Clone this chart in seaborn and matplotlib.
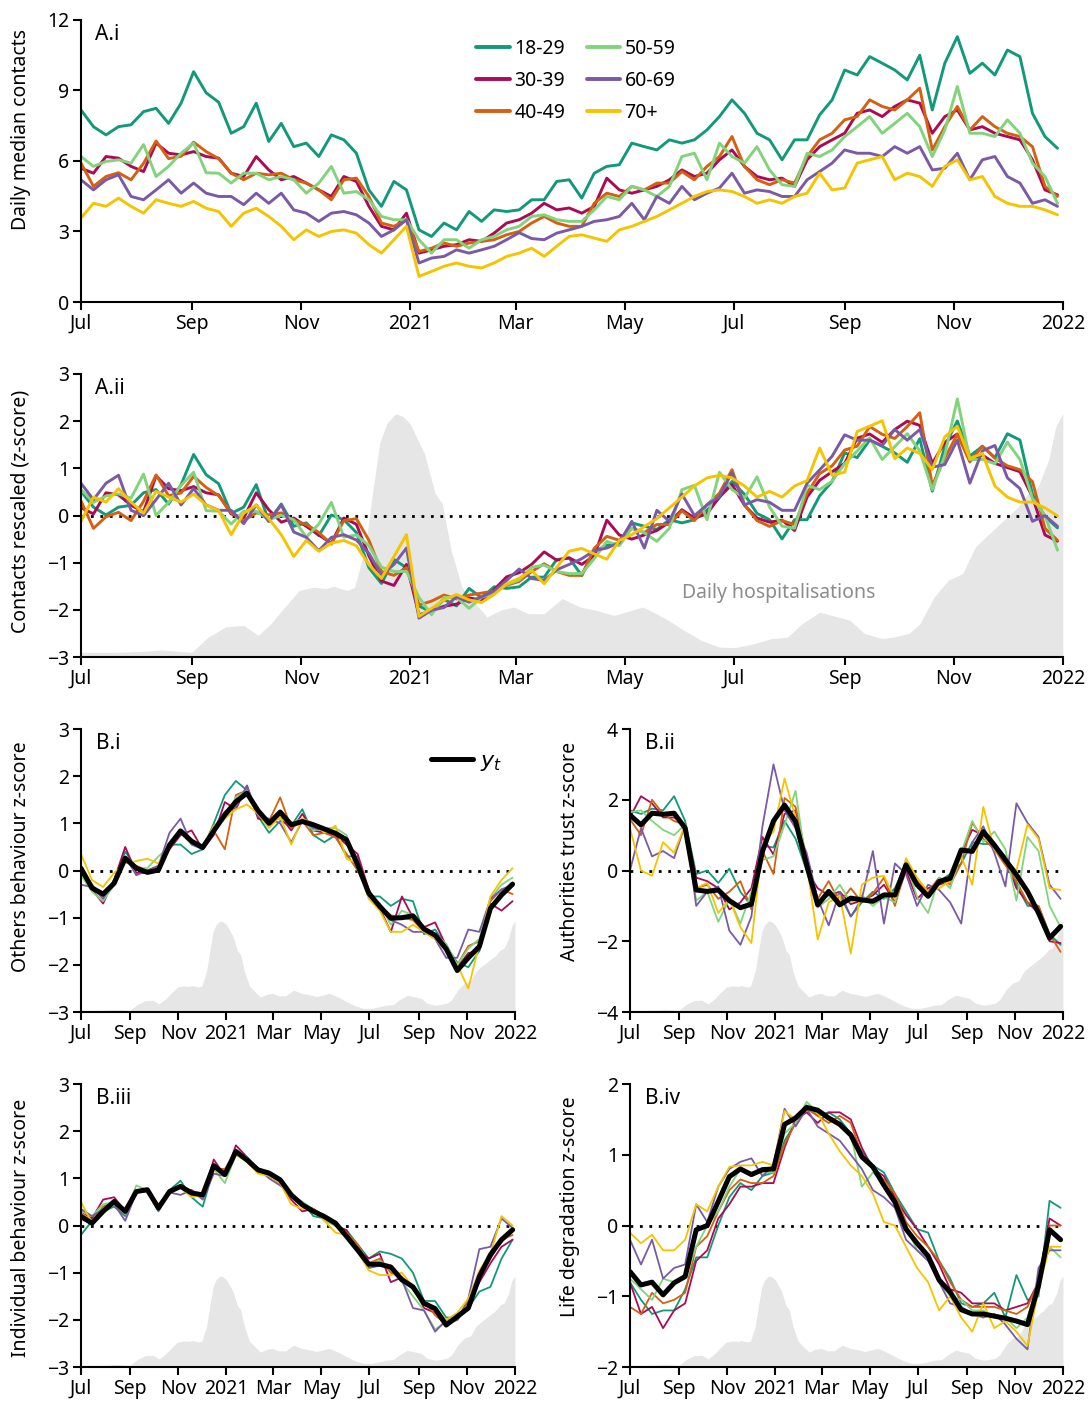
import numpy as np
import pandas as pd
import matplotlib
matplotlib.use("Agg")
import matplotlib.pyplot as plt
import matplotlib.dates as mdates
from matplotlib.ticker import FuncFormatter
import seaborn as sns

# ---------------------------------------------------------------- data
ages = ["18-29", "30-39", "40-49", "50-59", "60-69", "70+"]
age_colors = ["#12997a", "#ab0a55", "#d5600f", "#82d47c", "#7a5aa6", "#f5c400"]

# weekly daily-median contacts by age group (Jul 2020 - Dec 2021)
contact_weeks = pd.date_range("2020-07-01", periods=79, freq="7D")
contacts_18_29 = [8.17, 7.46, 7.11, 7.46, 7.54, 8.1, 8.24, 7.6, 8.46, 9.8, 8.9, 8.5, 7.18, 7.46, 8.46, 6.83,
                  7.6, 6.61, 6.76, 6.19, 7.11, 6.9, 6.33, 4.77, 4.07, 5.13, 4.77, 3.07, 2.79, 3.36, 3.07,
                  3.85, 3.43, 3.92, 3.85, 3.92, 4.35,
                  4.35, 5.13, 5.2, 4.42, 5.48, 5.77, 5.84, 6.76, 6.61, 6.47, 6.9, 6.76, 6.9, 7.32, 7.89, 8.6,
                  8.03, 7.18, 6.9, 6.05, 6.9, 6.9, 7.96, 8.6, 9.87, 9.66, 10.44, 10.16, 9.87, 9.45, 10.5, 8.17,
                  10.16, 11.29, 9.73, 10.16, 9.66, 10.72, 10.44, 8.03, 7.04, 6.54]
contacts_30_39 = [5.69, 5.48, 6.19, 6.12, 5.77, 5.55, 6.76, 6.33, 6.26, 6.4, 6.19, 6.12, 5.48, 5.34, 6.19, 5.62,
                  5.2, 5.34, 5.06, 4.77, 4.49, 5.34, 5.13, 4.07, 3.22, 3.07, 3.78, 2.08, 2.22, 2.37, 2.44,
                  2.65, 2.58, 2.93, 3.36, 3.5, 3.78,
                  4.2, 3.92, 4.0, 3.78, 4.07, 5.27, 4.77, 4.63, 4.77, 4.92, 5.2, 5.62, 5.34, 5.48, 6.05, 6.47,
                  5.77, 5.34, 5.2, 5.27, 4.92, 6.05, 6.61, 6.9, 7.18, 8.03, 8.17, 7.89, 8.32, 8.6, 8.46, 7.18,
                  7.89, 8.17, 7.32, 7.46, 7.18, 7.04, 6.9, 6.05, 4.77, 4.56]
contacts_40_49 = [5.91, 4.92, 5.34, 5.5, 5.2, 5.9, 6.85, 6.1, 6.2, 6.8, 6.4, 6.1, 5.48, 5.2, 5.48, 5.41,
                  5.48, 5.2, 5.06, 4.77, 4.35, 5.2, 5.27, 4.49, 3.36, 3.22, 3.5, 2.15, 2.29, 2.51, 2.37,
                  2.51, 2.58, 2.65, 2.86, 3.0, 3.36,
                  3.64, 3.36, 3.22, 3.22, 4.2, 4.63, 4.49, 4.92, 4.77, 5.06, 5.06, 5.55, 5.2, 5.77, 6.19, 7.04,
                  5.77, 5.2, 4.99, 5.2, 5.06, 6.19, 6.9, 7.18, 7.75, 7.89, 8.6, 8.32, 8.17, 8.6, 9.1, 6.47,
                  7.46, 8.32, 7.32, 7.89, 7.46, 7.18, 7.04, 6.61, 4.92, 4.49]
contacts_50_59 = [6.19, 5.77, 5.98, 6.05, 5.91, 6.7, 5.34, 5.77, 6.33, 6.76, 5.5, 5.48, 5.06, 5.48, 5.48, 5.2,
                  5.34, 5.2, 4.63, 5.06, 5.77, 4.63, 4.7, 4.35, 3.64, 3.5, 3.5, 2.65, 2.08, 2.65, 2.65,
                  2.29, 2.65, 2.79, 3.07, 3.22, 3.64,
                  3.71, 3.5, 3.43, 3.43, 3.92, 4.49, 4.35, 4.92, 4.77, 4.49, 4.92, 6.19, 6.33, 5.2, 6.76, 6.19,
                  5.91, 6.61, 5.62, 4.99, 4.92, 6.33, 6.19, 6.47, 7.04, 7.46, 7.89, 7.18, 7.6, 8.03, 7.46, 6.19,
                  7.32, 9.17, 7.18, 7.18, 7.04, 7.75, 7.18, 5.91, 5.34, 4.2]
contacts_60_69 = [5.2, 4.77, 5.2, 5.41, 4.49, 4.35, 4.77, 5.2, 4.63, 5.06, 4.63, 4.49, 4.49, 4.14, 4.63, 4.2,
                  4.63, 3.92, 3.78, 3.43, 3.78, 3.85, 3.71, 3.36, 2.79, 3.07, 3.5, 1.66, 1.87, 1.94, 2.22,
                  2.08, 2.22, 2.37, 2.65, 2.95, 2.7,
                  2.65, 2.93, 3.07, 3.22, 3.43, 3.5, 3.64, 4.2, 3.5, 4.49, 4.2, 4.92, 4.35, 4.63, 4.85, 5.48,
                  4.63, 4.77, 4.7, 4.49, 4.49, 5.2, 5.55, 5.91, 6.47, 6.33, 6.33, 6.19, 6.61, 6.33, 6.61, 5.62,
                  5.69, 6.33, 5.2, 6.05, 6.19, 5.34, 5.06, 4.2, 4.35, 4.07]
contacts_70 = [3.57, 4.2, 4.07, 4.42, 4.07, 3.78, 4.35, 4.2, 4.07, 4.28, 3.99, 3.85, 3.22, 3.78, 3.99, 3.64,
               3.22, 2.65, 3.07, 2.79, 3.0, 3.07, 2.93, 2.44, 2.08, 2.65, 3.22, 1.09, 1.3, 1.52, 1.66,
               1.52, 1.45, 1.66, 1.94, 2.08, 2.29,
               1.94, 2.37, 2.79, 2.86, 2.72, 2.58, 3.07, 3.22, 3.43, 3.64, 3.92, 4.2, 4.49, 4.7, 4.77, 4.7,
               4.49, 4.2, 4.35, 4.2, 4.49, 4.63, 5.48, 4.77, 4.85, 5.91, 6.05, 6.19, 5.2, 5.48, 5.34, 4.92,
               5.77, 6.05, 5.2, 5.34, 4.49, 4.2, 4.07, 4.07, 3.92, 3.71]

# daily hospital admissions (days since 1 Jul 2020)
hosp_day = [0, 20, 35, 45, 55, 62, 71, 81, 91, 99, 106, 114, 122, 130, 137, 141, 149, 153, 159, 163,
            167, 171, 176, 180, 184, 188, 192, 198, 202, 207, 213, 219, 227, 235, 242, 250, 259, 269, 279, 288,
            298, 314, 318, 327, 337, 347, 357, 366, 376, 386, 395, 403, 413, 423, 430, 438, 448, 454, 463, 469,
            477, 485, 493, 500, 508, 516, 524, 531, 535, 541, 545, 549]
hosp_admissions = [80, 80, 96, 120, 96, 80, 336, 512, 536, 368, 560, 848, 1128, 1184, 1160, 1200, 1128, 1184,
                   1864, 2776, 3624, 3960, 4128, 4080, 3960, 3704, 3456, 2776, 2600, 1808, 1184, 960, 680, 800,
                   848, 736, 736, 992, 848, 792, 704, 848, 792, 648, 456, 280, 168, 160, 224, 312, 336, 560,
                   760, 680, 624, 400, 312, 336, 400, 560, 1016, 1304, 1416, 1864, 2096, 2320, 2544, 2832,
                   2880, 3336, 3904, 4128]

# fortnightly survey z-scores: latent trend y_t and each age group
survey_dates = pd.date_range("2020-07-01", periods=40, freq="14D")

others_yt = [0.05, -0.37, -0.5, -0.27, 0.26, 0.05, -0.04, 0.01, 0.54, 0.84, 0.62, 0.49, 0.84, 1.18, 1.46, 1.64,
             1.27, 1.0, 1.24, 0.97, 1.04, 0.97, 0.88, 0.79, 0.65, 0.12, -0.48, -0.76, -1.01, -1.0, -0.96, -1.24,
             -1.37, -1.66, -2.12, -1.85, -1.61, -0.8, -0.52, -0.29]
others_18_29 = [-0.1, -0.35, -0.55, -0.2, 0.4, 0.05, -0.05, 0.0, 0.55, 0.55, 0.35, 0.45, 1.0, 1.6, 1.9, 1.7,
                1.15, 0.8, 1.05, 0.95, 1.3, 0.75, 0.6, 0.75, 0.3, 0.3, -0.55, -0.55, -0.75, -0.6, -0.65, -1.35,
                -1.25, -1.6, -1.95, -2.05, -1.7, -0.8, -0.45, -0.25]
others_30_39 = [-0.05, -0.4, -0.7, -0.2, 0.5, -0.05, -0.05, 0.05, 0.45, 0.75, 0.85, 0.45, 0.75, 1.45, 1.3, 1.8,
                1.1, 1.05, 1.15, 0.85, 1.2, 0.85, 0.8, 0.75, 0.55, 0.35, -0.4, -0.8, -1.3, -0.55, -1.0, -1.2,
                -1.1, -1.6, -2.05, -1.75, -1.7, -0.7, -0.85, -0.65]
others_40_49 = [-0.1, -0.3, -0.55, -0.3, 0.25, 0.1, 0.0, 0.1, 0.5, 0.85, 0.6, 0.45, 0.85, 0.45, 1.6, 1.7,
                1.2, 1.05, 1.55, 0.9, 1.05, 0.75, 0.8, 0.7, 0.35, 0.0, -0.45, -0.75, -0.95, -1.0, -1.05, -1.3,
                -1.4, -1.6, -2.0, -1.6, -1.5, -0.65, -0.4, -0.5]
others_50_59 = [-0.1, -0.45, -0.65, -0.3, 0.2, 0.05, 0.05, 0.3, 0.5, 0.8, 0.55, 0.5, 0.85, 1.1, 1.55, 1.7,
                1.2, 1.05, 1.1, 1.0, 1.1, 0.85, 0.9, 0.9, 0.75, 0.0, -0.5, -0.7, -1.15, -0.85, -0.95, -1.3,
                -1.35, -1.55, -2.0, -1.65, -1.45, -0.6, -0.3, -0.15]
others_60_69 = [-0.3, -0.35, -0.6, -0.2, 0.3, -0.1, 0.0, 0.1, 0.8, 1.1, 0.55, 0.45, 0.9, 1.25, 1.35, 1.8,
                1.15, 1.1, 1.0, 0.6, 1.05, 0.9, 0.85, 0.75, 0.7, 0.2, -0.5, -0.8, -1.05, -1.15, -1.3, -1.3,
                -1.45, -1.85, -1.85, -1.25, -1.3, -0.6, -0.4, -0.3]
others_70 = [0.35, -0.2, -0.35, -0.05, 0.15, 0.2, 0.25, 0.15, 0.5, 0.85, 0.6, 0.5, 0.95, 1.1, 1.3, 1.4,
             1.2, 0.9, 1.15, 0.55, 1.1, 1.0, 0.8, 0.95, 0.25, 0.15, -0.6, -0.85, -1.3, -1.3, -1.15, -1.3,
             -1.45, -1.7, -2.0, -2.5, -1.55, -0.55, -0.2, 0.05]

trust_yt = [1.57, 1.29, 1.62, 1.59, 1.62, 1.2, -0.55, -0.59, -0.55, -0.85, -1.05, -0.95, 0.54, 1.4, 1.85, 1.38,
            0.16, -0.97, -0.59, -0.97, -0.78, -0.83, -0.87, -0.69, -0.69, 0.16, -0.4, -0.73, -0.31, -0.22,
            0.58, 0.54, 1.1, 0.72, 0.3, -0.12, -0.59, -1.2, -1.91, -1.58]
trust_18_29 = [1.7, 1.6, 1.75, 1.7, 2.1, 1.4, -0.1, 0.0, -0.35, 0.05, -0.6, -1.0, 0.7, 0.65, 1.4, 0.9,
               0.0, -0.9, -0.7, -0.7, -1.3, -0.9, -0.6, -0.8, -0.5, 0.2, -0.4, -0.7, -0.3, -0.1,
               0.2, 0.8, 0.75, 0.75, 0.4, -0.4, -1.0, -1.0, -1.8, -2.1]
trust_30_39 = [1.5, 2.1, 1.9, 1.5, 1.5, 1.3, -0.2, -0.3, -0.5, -1.1, -0.9, -0.5, 0.95, 0.45, 1.6, 1.7,
               0.0, -0.5, -0.7, -0.6, -0.95, -0.85, -0.7, -0.4, -0.9, 0.0, -0.8, -0.5, -0.4, -0.3,
               0.5, 1.15, 1.0, 0.7, 0.3, -0.5, -0.9, -1.2, -2.0, -2.05]
trust_40_49 = [1.45, 1.0, 2.0, 1.6, 1.4, 1.3, -0.5, -0.4, -0.8, -0.6, -0.3, -1.1, 0.55, -0.1, 2.05, 1.8,
               0.35, -0.8, -0.3, -0.9, -0.5, -0.9, -0.65, -0.2, -1.0, 0.15, -0.3, -0.6, -0.2, -0.4,
               0.2, 1.35, 0.9, 0.6, 0.15, -0.3, -0.9, -1.0, -1.8, -2.3]
trust_50_59 = [1.65, 1.7, 1.4, 1.15, 1.0, 1.3, -0.85, -0.6, -1.45, -0.8, -1.5, -0.6, 0.3, 0.4, 1.3, 2.25,
               0.1, -1.05, -0.8, -0.4, -0.9, -0.7, -1.0, -0.75, -0.9, 0.25, -0.75, -1.2, -0.2, -0.5,
               0.5, 1.4, 0.8, 1.1, 0.6, -0.85, 0.95, 0.55, -1.0, -1.6]
trust_60_69 = [0.0, 1.2, 0.4, 0.55, 0.35, 1.3, -1.0, -0.6, -0.45, -1.7, -2.1, -1.3, 1.25, 3.0, 1.7, 1.2,
               0.5, -0.8, -1.55, -0.6, -1.3, -0.8, 0.55, -1.5, 0.2, -0.1, -1.0, -0.4, -0.55, -0.9,
               -1.5, 0.8, 1.25, 0.5, -0.45, 1.9, 1.35, 0.95, -0.4, -0.8]
trust_70 = [1.2, 0.0, -0.15, 0.8, 0.5, 1.3, -0.5, -0.35, -1.2, -0.8, -1.6, -2.05, 0.75, 1.1, 2.6, 1.5,
            0.2, -1.95, -0.9, -0.7, -2.35, -0.4, -0.2, -0.15, -0.8, 0.35, -0.2, -0.6, -0.5, -0.3,
            0.4, -0.4, 1.8, 0.6, 0.3, 0.0, 1.3, 0.9, -0.5, -0.55]

indiv_yt = [0.19, 0.05, 0.3, 0.51, 0.3, 0.72, 0.76, 0.37, 0.72, 0.83, 0.69, 0.65, 1.27, 1.08, 1.57, 1.39,
            1.18, 1.11, 0.97, 0.65, 0.44, 0.3, 0.19, 0.05, -0.23, -0.52, -0.82, -0.82, -0.88, -1.15,
            -1.3, -1.65, -1.76, -2.11, -1.93, -1.75, -1.08, -0.62, -0.3, -0.09]
indiv_18_29 = [-0.2, 0.1, 0.3, 0.4, 0.2, 0.7, 0.75, 0.3, 0.75, 0.95, 0.6, 0.4, 1.2, 1.15, 1.6, 1.4,
               1.15, 1.1, 0.95, 0.65, 0.5, 0.2, 0.15, 0.0, -0.1, -0.4, -0.7, -0.55, -0.6, -0.7,
               -1.0, -1.6, -1.6, -1.95, -1.95, -1.75, -1.4, -1.3, -0.7, -0.3]
indiv_30_39 = [0.3, 0.15, 0.55, 0.6, 0.3, 0.75, 0.75, 0.35, 0.75, 0.8, 0.75, 0.6, 1.4, 1.05, 1.7, 1.45,
               1.2, 1.05, 0.9, 0.55, 0.3, 0.35, 0.2, 0.0, -0.1, -0.5, -0.7, -0.6, -1.2, -1.1,
               -1.3, -1.75, -1.85, -2.05, -2.0, -1.7, -1.2, -0.8, -0.45, -0.3]
indiv_40_49 = [0.25, 0.1, 0.4, 0.5, 0.25, 0.75, 0.7, 0.45, 0.7, 0.85, 0.7, 0.6, 1.2, 1.2, 1.55, 1.45,
               1.15, 1.1, 0.9, 0.6, 0.45, 0.35, 0.15, 0.0, -0.15, -0.4, -0.8, -0.7, -1.0, -1.1,
               -1.35, -1.6, -1.9, -2.1, -2.0, -1.6, -1.05, -0.7, -0.3, -0.2]
indiv_50_59 = [0.3, 0.2, 0.45, 0.5, 0.25, 0.85, 0.75, 0.35, 0.7, 0.8, 0.65, 0.6, 1.2, 0.9, 1.5, 1.4,
               1.2, 1.15, 1.0, 0.65, 0.5, 0.35, 0.1, 0.0, -0.2, -0.5, -0.8, -0.75, -0.9, -1.2,
               -1.5, -1.8, -2.2, -2.05, -1.9, -1.7, -1.0, -0.65, -0.35, -0.1]
indiv_60_69 = [0.35, 0.2, 0.35, 0.45, 0.1, 0.7, 0.75, 0.35, 0.7, 0.65, 0.75, 0.55, 1.1, 1.05, 1.55, 1.45,
               1.2, 1.0, 0.85, 0.65, 0.45, 0.35, 0.2, 0.0, -0.2, -0.5, -0.9, -0.85, -0.85, -1.15,
               -1.75, -1.8, -2.25, -2.0, -2.0, -1.55, -0.5, -0.45, 0.15, -0.05]
indiv_70 = [0.5, 0.05, 0.35, 0.45, 0.35, 0.75, 0.7, 0.4, 0.75, 0.8, 0.6, 0.65, 1.2, 1.05, 1.5, 1.35,
            1.1, 1.05, 0.9, 0.45, 0.35, 0.35, 0.1, -0.15, -0.2, -0.55, -0.95, -1.05, -1.05, -1.0,
            -1.3, -1.6, -1.75, -2.0, -1.85, -1.55, -0.95, -0.6, 0.2, 0.0]

life_yt = [-0.65, -0.84, -0.8, -0.98, -0.81, -0.72, -0.06, 0.0, 0.34, 0.69, 0.8, 0.72, 0.79, 0.8, 1.43, 1.52,
           1.67, 1.63, 1.52, 1.43, 1.28, 0.97, 0.83, 0.57, 0.33, -0.05, -0.25, -0.43, -0.77, -0.94,
           -1.19, -1.25, -1.25, -1.28, -1.31, -1.35, -1.4, -0.85, -0.06, -0.2]
life_18_29 = [-0.8, -1.05, -1.25, -1.2, -1.2, -0.9, -0.45, -0.45, 0.0, 0.4, 0.6, 0.5, 0.7, 0.75, 1.2, 1.45,
              1.7, 1.55, 1.6, 1.5, 1.3, 1.05, 0.85, 0.75, 0.45, 0.2, -0.05, -0.1, -0.5, -0.75,
              -1.1, -1.15, -1.1, -0.95, -1.3, -0.7, -1.05, -1.0, 0.35, 0.25]
life_30_39 = [-0.8, -1.25, -1.15, -1.45, -1.2, -1.1, -0.5, -0.35, 0.1, 0.3, 0.55, 0.55, 0.6, 0.6, 1.1, 1.5,
              1.6, 1.45, 1.6, 1.6, 1.5, 1.1, 0.8, 0.7, 0.4, 0.15, -0.05, -0.3, -0.55, -0.9,
              -0.95, -1.1, -1.1, -1.1, -1.2, -1.15, -1.1, -0.8, 0.1, 0.0]
life_40_49 = [-1.15, -1.25, -0.95, -1.1, -1.05, -0.95, -0.3, -0.15, 0.2, 0.5, 0.65, 0.6, 0.6, 0.7, 1.15, 1.45,
              1.65, 1.55, 1.45, 1.55, 1.45, 1.0, 0.8, 0.65, 0.45, 0.05, -0.15, -0.3, -0.5, -0.8,
              -1.05, -1.15, -1.15, -1.15, -1.2, -1.25, -1.15, -0.8, 0.0, 0.0]
life_50_59 = [-0.75, -0.9, -1.05, -0.75, -0.8, -0.75, -0.3, 0.0, 0.2, 0.55, 0.8, 0.75, 0.75, 0.75, 1.3, 1.45,
              1.75, 1.6, 1.5, 1.45, 1.3, 0.55, 0.75, 0.6, 0.35, 0.0, -0.35, -0.45, -0.8, -1.0,
              -1.05, -1.2, -1.2, -1.3, -1.3, -1.45, -1.3, -0.8, -0.3, -0.45]
life_60_69 = [-0.2, -0.55, -0.2, -0.75, -0.6, -0.55, 0.3, 0.05, 0.55, 0.8, 0.9, 0.95, 0.7, 0.85, 1.65, 1.4,
              1.65, 1.4, 1.3, 1.2, 1.0, 0.8, 0.5, 0.4, 0.25, -0.2, -0.35, -0.5, -0.8, -1.1,
              -1.15, -1.25, -1.3, -1.25, -1.4, -1.6, -1.75, -0.6, -0.35, -0.35]
life_70 = [-0.1, -0.25, -0.13, -0.35, -0.35, -0.2, 0.3, 0.2, 0.55, 0.83, 0.85, 0.85, 0.9, 0.85, 1.62, 1.5,
           1.65, 1.6, 1.3, 1.05, 0.85, 0.7, 0.45, 0.05, 0.0, -0.3, -0.6, -0.8, -1.2, -1.0,
           -1.3, -1.5, -1.1, -1.45, -1.35, -1.5, -1.7, -0.9, -0.3, -0.3]

# ---------------------------------------------------------------- style
sns.set_theme(style="ticks")
plt.rcParams["font.family"] = ["Noto Sans", "DejaVu Sans"]
plt.rcParams.update({
    "axes.linewidth": 1.5, "axes.edgecolor": "black",
    "xtick.color": "black", "ytick.color": "black",
    "xtick.major.size": 5.5, "ytick.major.size": 5.5,
    "xtick.major.width": 1.5, "ytick.major.width": 1.5,
    "xtick.major.pad": 3, "ytick.major.pad": 3,
    "xtick.labelsize": 14, "ytick.labelsize": 14,
    "axes.labelsize": 14, "axes.labelcolor": "black", "text.color": "black",
})

START, END = pd.Timestamp("2020-07-01"), pd.Timestamp("2022-01-01")
palette = dict(zip(ages, age_colors))
hosp_dates = START + pd.to_timedelta(hosp_day, unit="D")
HOSP_FILL = "#e6e6e6"


def month_label(x, pos):
    d = mdates.num2date(x)
    return str(d.year) if d.month == 1 else d.strftime("%b")


def by_age(dates, columns, name):
    return pd.concat([pd.DataFrame({"date": dates, "age": a, name: v})
                      for a, v in zip(ages, columns)], ignore_index=True)


def decorate(ax, ylim, yticks, ylabel, label_xy, tag, tag_x):
    ax.set_xlim(START, END)
    ax.set_ylim(*ylim)
    ax.set_yticks(yticks)
    ax.xaxis.set_major_locator(mdates.MonthLocator(bymonth=[1, 3, 5, 7, 9, 11]))
    ax.xaxis.set_major_formatter(FuncFormatter(month_label))
    ax.set_xlabel("")
    ax.set_ylabel(ylabel)
    ax.yaxis.set_label_coords(*label_xy)
    sns.despine(ax=ax)
    ax.text(tag_x, 0.985, tag, transform=ax.transAxes, fontsize=15, ha="left", va="top")


def hospital_backdrop(ax, peak_frac):
    tw = ax.twinx()
    tw.fill_between(hosp_dates, 0, hosp_admissions, color=HOSP_FILL, linewidth=0)
    tw.set_ylim(0, max(hosp_admissions) / peak_frac)
    tw.set_yticks([])
    for s in tw.spines.values():
        s.set_visible(False)
    ax.set_zorder(tw.get_zorder() + 1)
    ax.patch.set_visible(False)


def zero_line(ax):
    ax.axhline(0, color="black", linestyle=(0, (1, 2.4)), linewidth=2.0, zorder=1.5)


fig = plt.figure(figsize=(10.91, 14.06), dpi=100)

# ---------------------------------------------------------------- A.i
contacts = by_age(contact_weeks,
                  [contacts_18_29, contacts_30_39, contacts_40_49,
                   contacts_50_59, contacts_60_69, contacts_70], "contacts")
ax1 = fig.add_axes([0.0742, 0.7852, 0.900, 0.2006])
sns.lineplot(data=contacts, x="date", y="contacts", hue="age", hue_order=ages,
             palette=palette, linewidth=2.1, estimator=None, ax=ax1)
decorate(ax1, (0, 12), [0, 3, 6, 9, 12], "Daily median contacts", (-0.051, 0.61), "A.i", 0.014)
sns.move_legend(ax1, "upper left", bbox_to_anchor=(0.385, 0.995), ncol=2, title=None,
                frameon=False, fontsize=14, handlelength=1.7, handletextpad=0.25,
                columnspacing=1.1, labelspacing=0.62)
for h in ax1.get_legend().get_lines():
    h.set_linewidth(2.8)

# ---------------------------------------------------------------- A.ii
contacts["z"] = contacts.groupby("age")["contacts"].transform(
    lambda s: (s - s.mean()) / s.std(ddof=0))
ax2 = fig.add_axes([0.0742, 0.5327, 0.900, 0.2013])
hospital_backdrop(ax2, 0.86)
zero_line(ax2)
sns.lineplot(data=contacts, x="date", y="z", hue="age", hue_order=ages,
             palette=palette, linewidth=2.1, estimator=None, legend=False, ax=ax2)
decorate(ax2, (-3, 3), range(-3, 4), "Contacts rescaled (z-score)", (-0.051, 0.516), "A.ii", 0.014)
ax2.text(0.711, 0.226, "Daily hospitalisations", transform=ax2.transAxes,
         ha="center", va="center", color="#8c8c8c", fontsize=14)

# ---------------------------------------------------------------- B panels
panels = [
    ([0.0742, 0.2802, 0.3978, 0.2013], "B.i", "Others behaviour z-score", (-3, 3), range(-3, 4),
     others_yt, [others_18_29, others_30_39, others_40_49, others_50_59, others_60_69, others_70], 0.548),
    ([0.5774, 0.2802, 0.3969, 0.2013], "B.ii", "Authorities trust z-score", (-4, 4), [-4, -2, 0, 2, 4],
     trust_yt, [trust_18_29, trust_30_39, trust_40_49, trust_50_59, trust_60_69, trust_70], 0.569),
    ([0.0742, 0.0277, 0.3978, 0.2013], "B.iii", "Individual behaviour z-score", (-3, 3), range(-3, 4),
     indiv_yt, [indiv_18_29, indiv_30_39, indiv_40_49, indiv_50_59, indiv_60_69, indiv_70], 0.49),
    ([0.5774, 0.0277, 0.3969, 0.2013], "B.iv", "Life degradation z-score", (-2, 2), [-2, -1, 0, 1, 2],
     life_yt, [life_18_29, life_30_39, life_40_49, life_50_59, life_60_69, life_70], 0.565),
]

for i, (rect, tag, ylabel, ylim, yticks, yt, groups, label_y) in enumerate(panels):
    ax = fig.add_axes(rect)
    hospital_backdrop(ax, 0.322)
    zero_line(ax)
    survey = by_age(survey_dates, groups, "score")
    sns.lineplot(data=survey, x="date", y="score", hue="age", hue_order=ages,
                 palette=palette, linewidth=1.3, estimator=None, legend=False, ax=ax)
    sns.lineplot(x=survey_dates, y=yt, color="black", linewidth=3.6, ax=ax)
    decorate(ax, ylim, yticks, ylabel, (-0.115, label_y), tag, 0.035)
    if i == 0:
        ax.legend([ax.lines[-1]], ["$y_t$"], loc="center left", bbox_to_anchor=(0.76, 0.885),
                  frameon=False, fontsize=16, handlelength=1.9, handletextpad=0.3)

fig.savefig("out.png", dpi=100)
